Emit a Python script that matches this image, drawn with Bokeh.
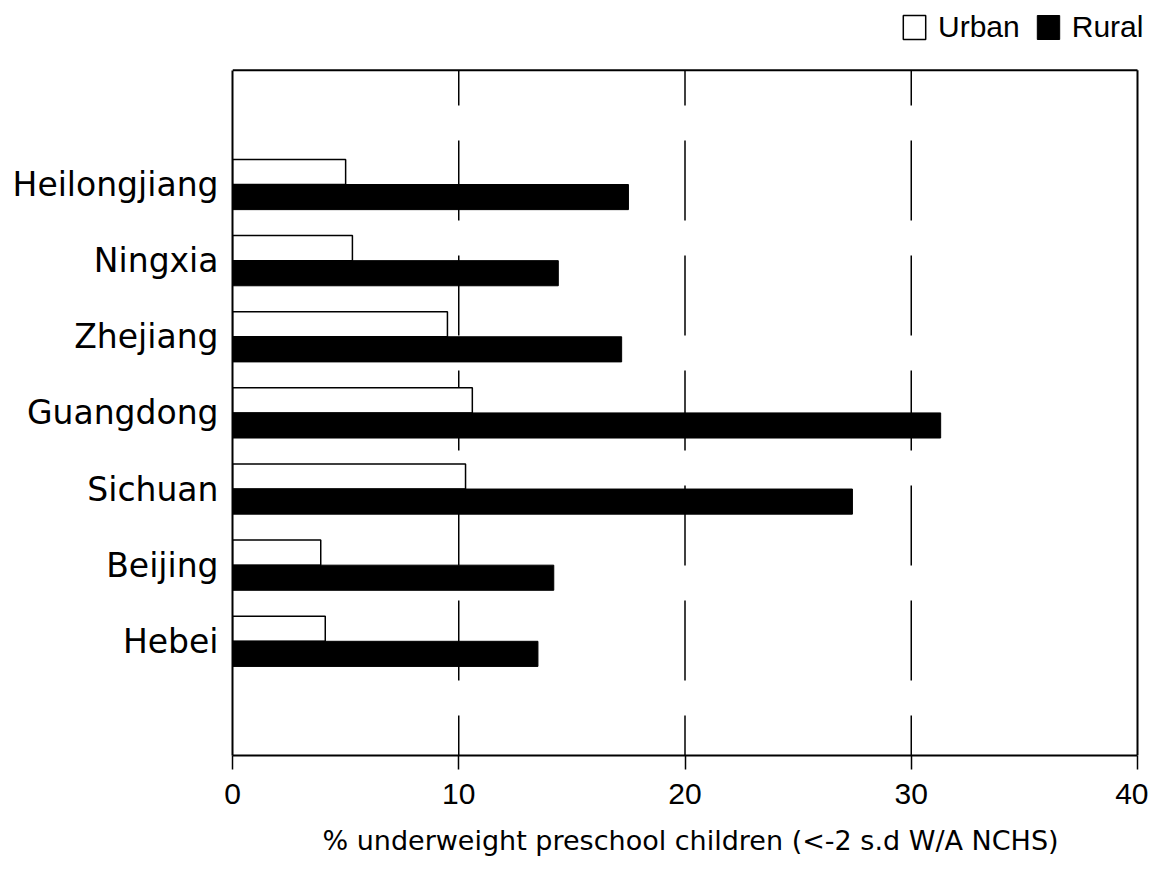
import numpy as np
from bokeh.plotting import figure
from bokeh.models import ColumnDataSource, FixedTicker, Legend, LegendItem, Range1d
from bokeh.embed import file_html
from bokeh.resources import INLINE

provinces = ["Heilongjiang", "Ningxia", "Zhejiang", "Guangdong", "Sichuan", "Beijing", "Hebei"]
urban = [5.0, 5.3, 9.5, 10.6, 10.3, 3.9, 4.1]
rural = [17.5, 14.4, 17.2, 31.3, 27.4, 14.2, 13.5]
x_ticks = [0, 10, 20, 30, 40]
grid_ticks = [10, 20, 30]
x_label = "% underweight preschool children (<-2 s.d W/A NCHS)"

n = len(provinces)
pos = np.arange(n)[::-1] + 1.5
bh = 0.33
x_lo, x_hi = 0, 40
y_lo, y_hi = 0, n + 2
# the frame is larger than the boxed plot area, leaving room for the legend on top/right
FRAME_W, BOX_W = 916, 905
FRAME_H, BOX_H = 757, 687
x_end = x_hi * FRAME_W / BOX_W
y_end = y_hi * FRAME_H / BOX_H

src = ColumnDataSource(dict(
    name=provinces, u=urban, r=rural,
    yu=pos + bh / 2, yr=pos - bh / 2,
))
gsrc = ColumnDataSource(dict(x=grid_ticks, y0=[y_lo] * len(grid_ticks), y1=[y_hi] * len(grid_ticks)))
bsrc = ColumnDataSource(dict(x0=[x_lo, x_hi], y0=[y_hi, y_lo], x1=[x_hi, x_hi], y1=[y_hi, y_hi]))

p = figure(width=1148, height=858, output_backend="svg", toolbar_location=None,
           x_range=Range1d(x_lo, x_end), y_range=Range1d(y_lo, y_end),
           min_border_left=232, min_border_right=0, min_border_top=0, min_border_bottom=101)
p.outline_line_color = None

# dashed gridlines (under the bars)
p.segment(x0="x", y0="y0", x1="x", y1="y1", source=gsrc, line_color="black",
          line_width=1.5, line_dash="80 35", line_dash_offset=40, level="underlay")

r_u = p.hbar(y="yu", left=0, right="u", height=bh, source=src,
             fill_color="white", line_color="black", line_width=1.5)
r_r = p.hbar(y="yr", left=0, right="r", height=bh, source=src,
             fill_color="black", line_color="black", line_width=1)

# top and right borders of the plot box
p.segment(x0="x0", y0="y0", x1="x1", y1="y1", source=bsrc, line_color="black", line_width=2)

# x axis
p.xaxis.ticker = FixedTicker(ticks=x_ticks)
p.xaxis.bounds = (x_lo, x_hi)
p.xaxis.minor_tick_line_color = None
p.xaxis.major_tick_in = 0
p.xaxis.major_tick_out = 14
p.xaxis.major_tick_line_width = 1.5
p.xaxis.major_tick_line_color = "black"
p.xaxis.axis_line_width = 2
p.xaxis.axis_line_color = "black"
p.xaxis.major_label_text_font = "Liberation Sans"
p.xaxis.major_label_text_font_size = "30px"
p.xaxis.major_label_text_color = "black"
p.xaxis.major_label_standoff = 14
p.xaxis.axis_label = x_label
p.xaxis.axis_label_text_font = "DejaVu Sans"
p.xaxis.axis_label_text_font_size = "27px"
p.xaxis.axis_label_text_font_style = "normal"
p.xaxis.axis_label_text_color = "black"
p.xaxis.axis_label_standoff = 18

# y axis
p.yaxis.ticker = FixedTicker(ticks=list(pos))
p.yaxis.bounds = (y_lo, y_hi)
p.yaxis.major_label_overrides = {float(v): s for v, s in zip(pos, provinces)}
p.yaxis.major_tick_line_color = None
p.yaxis.minor_tick_line_color = None
p.yaxis.axis_line_width = 2
p.yaxis.axis_line_color = "black"
p.yaxis.major_label_text_font = "DejaVu Sans"
p.yaxis.major_label_text_font_size = "33px"
p.yaxis.major_label_text_color = "black"
p.yaxis.major_label_standoff = 8

p.xgrid.grid_line_color = None
p.ygrid.grid_line_color = None

legend = Legend(items=[LegendItem(label="Urban", renderers=[r_u]),
                       LegendItem(label="Rural", renderers=[r_r])],
                orientation="horizontal", location=(668, 711),
                label_text_font="Liberation Sans", label_text_font_size="30px",
                label_text_color="black",
                glyph_width=28, glyph_height=30, label_height=30,
                spacing=14, label_standoff=10,
                padding=2, margin=0, border_line_color=None, background_fill_alpha=0)
p.add_layout(legend, "center")

open("out.html", "w").write(file_html(p, INLINE))
